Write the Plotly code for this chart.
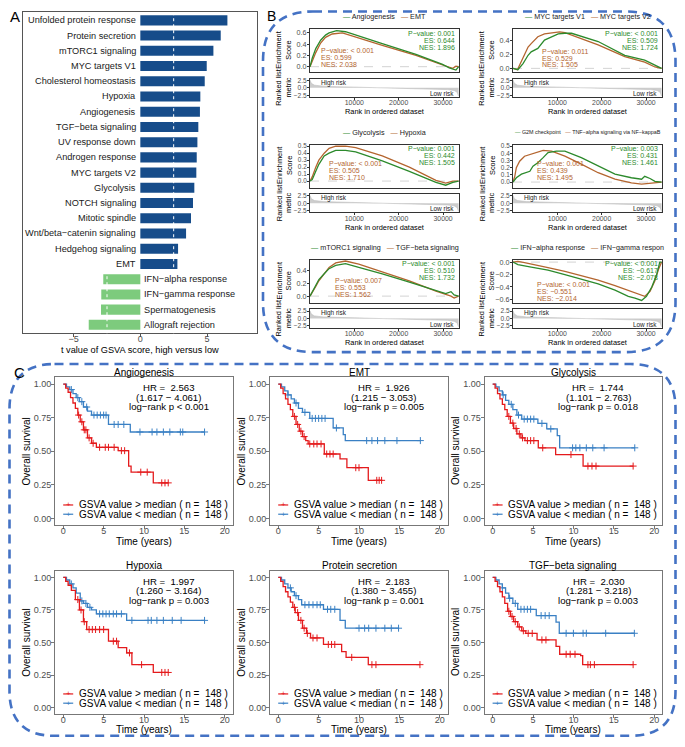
import plotly.graph_objects as go

# the page adds an 8px body margin, so the figure is 16px smaller and shifted
W, H = 685, 747
OFF = 8
FW, FH = W - 2 * OFF, H - 2 * OFF
FONT = "Liberation Sans, Arial, sans-serif"
GREEN, BROWN = "#2C8A2C", "#B4652F"
RED, BLUE = "#E41A1C", "#3A80C4"
BAR_UP, BAR_DOWN = "#164C8A", "#7DCB7D"
FRAME = "#333333"
KM_FRAME = "#777777"
TICK = "#4D4D4D"
DASH_BLUE = "#4472C4"
NB = "\u00a0"

# ---------------- A: t values of GSVA score
pathways = ["Unfolded protein response", "Protein secretion", "mTORC1 signaling", "MYC targets V1",
            "Cholesterol homeostasis", "Hypoxia", "Angiogenesis", "TGF−beta signaling", "UV response down",
            "Androgen response", "MYC targets V2", "Glycolysis", "NOTCH signaling", "Mitotic spindle",
            "Wnt/beta−catenin signaling", "Hedgehog signaling", "EMT", "IFN−alpha response",
            "IFN−gamma response", "Spermatogenesis", "Allograft rejection"]
t_values = [6.53, 6.03, 5.48, 4.98, 4.83, 4.50, 4.47, 4.35, 4.28, 4.23, 4.20, 4.05, 3.95, 3.80,
            3.43, 2.83, 2.78, -2.78, -2.93, -2.95, -3.87]

# ---------------- B: GSEA running enrichment scores
metric_rank = [0, 300, 1000, 3000, 6000, 10000, 14000, 17000, 20000, 25000, 29000, 31000, 32500, 33200, 33500]
metric_value = [2.6, 1.5, 0.9, 0.55, 0.4, 0.25, 0.12, 0.0, -0.08, -0.22, -0.4, -0.6, -0.9, -1.5, -2.8]

angio_rank = [0, 500, 1300, 2400, 3500, 4300, 6000, 8000, 16300, 23900, 29900, 31400, 32900, 33500]
angio_es = [0, 0.15, 0.32, 0.47, 0.56, 0.60, 0.64, 0.62, 0.41, 0.22, 0.04, -0.02, -0.06, 0.0]
emt_rank = [0, 500, 1300, 2400, 3500, 5000, 7300, 16300, 23900, 29900, 32200, 32900, 33500]
emt_es = [0, 0.10, 0.25, 0.42, 0.52, 0.58, 0.60, 0.38, 0.20, 0.03, -0.03, 0.01, 0.0]

mycv1_rank = [0, 1100, 2260, 3400, 4100, 5600, 7100, 8700, 10200, 11700, 13200, 19200, 25200, 29700, 32000, 33500]
mycv1_es = [0, -0.02, 0.07, 0.19, 0.24, 0.29, 0.41, 0.46, 0.50, 0.51, 0.51, 0.39, 0.19, 0.12, 0.05, 0.0]
mycv2_rank = [0, 1000, 1500, 2600, 3400, 4100, 5600, 7100, 8700, 10500, 11700, 15500, 19200, 25200, 29700, 32000, 33500]
mycv2_es = [0, -0.02, 0.05, 0.19, 0.31, 0.36, 0.46, 0.50, 0.51, 0.53, 0.52, 0.43, 0.34, 0.17, 0.09, 0.02, 0.0]

glyco_rank = [0, 500, 1300, 2000, 3200, 4300, 5800, 8000, 10300, 16300, 22400, 28400, 30600, 32200, 33500]
glyco_es = [0, 0.02, 0.14, 0.24, 0.36, 0.40, 0.44, 0.44, 0.42, 0.29, 0.14, -0.02, -0.06, -0.02, 0.0]
hypoxia_rank = [0, 500, 1300, 2000, 3200, 4300, 5800, 8000, 10300, 16300, 22400, 28400, 30600, 32200, 33500]
hypoxia_es = [0, 0.06, 0.20, 0.30, 0.40, 0.47, 0.50, 0.50, 0.48, 0.36, 0.20, 0.01, -0.03, 0.0, 0.0]

g2m_rank = [0, 750, 1900, 3000, 3800, 4500, 5600, 6800, 7900, 9800, 11700, 15400, 19200, 23000, 26700,
            29000, 29700, 30900, 32000, 33500]
g2m_es = [0, 0.06, 0.11, 0.13, 0.15, 0.22, 0.27, 0.34, 0.41, 0.43, 0.43, 0.34, 0.22, 0.11, 0.06,
          0.04, 0.08, 0.05, 0.01, 0.0]
tnfa_rank = [0, 400, 750, 1500, 2600, 4100, 5600, 6800, 8700, 11700, 15400, 19200, 23000, 26700, 29000, 31300, 33500]
tnfa_es = [0, 0.08, 0.20, 0.29, 0.36, 0.39, 0.42, 0.44, 0.43, 0.36, 0.25, 0.13, 0.04, -0.01, -0.03, -0.01, 0.0]

mtorc1_rank = [0, 500, 1300, 2000, 3200, 4300, 5800, 8000, 11000, 16300, 22400, 28400, 30600, 31800, 32500, 33500]
mtorc1_es = [0, 0.06, 0.17, 0.26, 0.35, 0.43, 0.48, 0.51, 0.45, 0.35, 0.22, 0.09, 0.04, 0.07, 0.02, 0.0]
tgfb_rank = [0, 500, 1300, 2000, 3200, 4300, 5800, 8000, 11000, 16300, 22400, 28400, 30600, 31800, 32500, 33500]
tgfb_es = [0, 0.05, 0.15, 0.24, 0.36, 0.45, 0.52, 0.55, 0.50, 0.38, 0.24, 0.08, 0.03, 0.0, -0.03, 0.0]

ifna_rank = [0, 1100, 4100, 7900, 11700, 15400, 19200, 23000, 26000, 27500, 29000, 30100, 31300, 32400, 33100, 33500]
ifna_es = [0, -0.04, -0.08, -0.13, -0.20, -0.27, -0.35, -0.45, -0.55, -0.58, -0.617, -0.55, -0.40, -0.20, 0.0, 0.0]
ifng_rank = [0, 1100, 2600, 4100, 7900, 11700, 15400, 19200, 23000, 26000, 27500, 29000, 29700, 30900, 32000, 32800, 33500]
ifng_es = [0, 0.01, -0.01, -0.03, -0.09, -0.15, -0.22, -0.29, -0.38, -0.46, -0.50, -0.53, -0.551, -0.47, -0.30, -0.12, 0.0]

# ---------------- C: Kaplan-Meier, GSVA high (hi) vs low (lo)
angio_hi_t = [0, 0.3, 0.6, 0.9, 1.2, 1.5, 1.8, 2.1, 2.5, 3.0, 3.5, 4.1, 6.8, 8.1, 8.4, 11.15, 13.0]
angio_hi_s = [1.0, 0.97, 0.94, 0.90, 0.86, 0.82, 0.77, 0.72, 0.66, 0.60, 0.56, 0.53, 0.505, 0.39, 0.345, 0.265, 0.265]
angio_hi_cens = [1.9, 2.3, 2.6, 2.8, 3.2, 3.7, 4.5, 5.2, 5.6, 6.3, 7.2, 7.6, 9.6, 10.4, 12.2, 12.6, 13.0]
angio_lo_t = [0, 0.4, 0.8, 1.2, 1.6, 2.0, 2.5, 3.0, 3.5, 5.6, 8.3, 17.5]
angio_lo_s = [1.0, 0.98, 0.96, 0.93, 0.90, 0.87, 0.83, 0.80, 0.77, 0.70, 0.644, 0.644]
angio_lo_cens = [1.0, 1.8, 2.3, 2.9, 3.8, 4.2, 4.6, 5.0, 5.3, 6.3, 6.8, 7.5, 9.5, 11.0, 11.6, 12.4, 13.2, 14.5, 14.8, 17.5]

emt_hi_t = [0, 0.3, 0.6, 0.9, 1.2, 1.5, 1.8, 2.2, 2.6, 3.0, 3.4, 3.7, 5.7, 7.65, 8.5, 11.15, 12.8]
emt_hi_s = [1.0, 0.97, 0.93, 0.89, 0.85, 0.81, 0.76, 0.70, 0.65, 0.61, 0.58, 0.555, 0.48, 0.444, 0.378, 0.284, 0.284]
emt_hi_cens = [2.0, 2.4, 2.8, 3.2, 3.9, 4.4, 4.8, 5.3, 6.0, 6.4, 6.8, 9.6, 10.0, 12.2, 12.5, 12.8]
emt_lo_t = [0, 0.4, 0.8, 1.2, 1.6, 2.0, 2.5, 3.0, 3.9, 6.8, 8.05, 8.3, 17.6]
emt_lo_s = [1.0, 0.98, 0.95, 0.92, 0.89, 0.86, 0.82, 0.79, 0.745, 0.674, 0.624, 0.58, 0.58]
emt_lo_cens = [1.2, 2.2, 3.3, 4.2, 4.6, 5.0, 5.4, 5.8, 7.2, 10.95, 11.6, 12.3, 13.2, 14.7, 17.6]

glyco_hi_t = [0, 0.3, 0.6, 0.9, 1.2, 1.5, 1.8, 2.2, 2.6, 3.0, 3.5, 4.0, 5.65, 7.8, 11.2, 17.4]
glyco_hi_s = [1.0, 0.97, 0.93, 0.89, 0.85, 0.81, 0.76, 0.71, 0.67, 0.63, 0.60, 0.58, 0.526, 0.476, 0.39, 0.39]
glyco_hi_cens = [2.0, 2.5, 2.9, 3.3, 3.7, 4.3, 4.7, 5.1, 6.2, 9.7, 11.8, 12.3, 12.8, 17.4]
glyco_lo_t = [0, 0.4, 0.8, 1.2, 1.6, 2.0, 2.5, 3.0, 3.6, 5.6, 6.7, 8.0, 8.3, 17.6]
glyco_lo_s = [1.0, 0.98, 0.95, 0.92, 0.88, 0.85, 0.81, 0.77, 0.74, 0.708, 0.667, 0.617, 0.526, 0.526]
glyco_lo_cens = [1.3, 2.3, 3.2, 3.9, 4.3, 4.7, 5.1, 6.1, 7.2, 9.9, 10.3, 10.8, 11.6, 12.4, 13.8, 17.6]

hypoxia_hi_t = [0, 0.3, 0.6, 1.0, 1.5, 2.0, 2.5, 2.9, 5.6, 6.8, 7.85, 8.5, 11.15, 13.0]
hypoxia_hi_s = [1.0, 0.97, 0.94, 0.90, 0.83, 0.75, 0.66, 0.60, 0.51, 0.46, 0.42, 0.33, 0.27, 0.27]
hypoxia_hi_cens = [1.8, 2.2, 2.6, 3.2, 3.6, 4.0, 4.5, 5.0, 6.2, 6.6, 8.2, 9.7, 12.2, 12.6, 13.0]
hypoxia_lo_t = [0, 0.4, 0.8, 1.2, 1.6, 2.1, 2.5, 3.0, 3.5, 4.1, 7.85, 17.5]
hypoxia_lo_s = [1.0, 0.98, 0.95, 0.92, 0.88, 0.82, 0.80, 0.77, 0.75, 0.72, 0.67, 0.67]
hypoxia_lo_cens = [1.0, 2.3, 2.8, 3.3, 4.5, 4.9, 5.3, 5.7, 6.2, 6.6, 7.2, 8.5, 10.5, 10.9, 11.6, 12.4, 13.5, 14.6, 17.5]

protsec_hi_t = [0, 0.3, 0.6, 0.9, 1.2, 1.5, 1.8, 2.1, 2.5, 3.0, 3.5, 4.0, 5.6, 7.85, 8.4, 11.15, 17.55]
protsec_hi_s = [1.0, 0.97, 0.93, 0.89, 0.85, 0.81, 0.77, 0.73, 0.67, 0.61, 0.57, 0.535, 0.485, 0.43, 0.386, 0.33, 0.33]
protsec_hi_cens = [2.0, 2.4, 2.8, 3.2, 3.6, 4.3, 4.8, 6.2, 6.6, 7.0, 9.1, 11.6, 12.1, 17.55]
protsec_lo_t = [0, 0.4, 0.8, 1.2, 1.6, 2.0, 2.5, 2.9, 5.6, 7.65, 8.3, 14.9]
protsec_lo_s = [1.0, 0.98, 0.95, 0.92, 0.89, 0.86, 0.83, 0.79, 0.755, 0.67, 0.61, 0.61]
protsec_lo_cens = [1.5, 2.2, 3.3, 3.8, 4.3, 4.8, 5.2, 6.1, 6.5, 7.0, 10.0, 10.7, 11.2, 12.1, 13.2, 14.0, 14.9]

tgfb_hi_t = [0, 0.3, 0.6, 0.9, 1.2, 1.5, 1.85, 2.2, 2.6, 3.1, 3.6, 4.1, 5.5, 7.85, 8.3, 10.9, 11.15, 17.4]
tgfb_hi_s = [1.0, 0.97, 0.93, 0.89, 0.85, 0.80, 0.74, 0.70, 0.66, 0.62, 0.59, 0.57, 0.52, 0.47, 0.41, 0.40, 0.33, 0.33]
tgfb_hi_cens = [2.0, 2.4, 2.8, 3.3, 3.8, 4.4, 4.9, 6.1, 6.6, 9.1, 9.6, 10.2, 11.8, 12.1, 12.6, 17.4]
tgfb_lo_t = [0, 0.4, 0.8, 1.2, 1.6, 2.0, 2.5, 3.1, 5.4, 7.85, 8.25, 17.55]
tgfb_lo_s = [1.0, 0.98, 0.95, 0.92, 0.88, 0.84, 0.80, 0.755, 0.707, 0.657, 0.571, 0.571]
tgfb_lo_cens = [1.2, 2.1, 2.8, 3.5, 3.9, 4.3, 4.7, 6.0, 6.5, 7.0, 9.1, 10.0, 11.2, 11.6, 14.0, 17.55]


# positions below are in page pixels (reference picture), converted to paper fractions
def px(x):
    return (x - OFF) / FW


def py(y):
    return 1 - (y - OFF) / FH


def xdom(a, b):
    return [px(a), px(b)]


def ydom(top, bottom):
    return [py(bottom), py(top)]


fig = go.Figure()
layout = {}
annotations = []
shapes = []


def label(text, x, y, size, color="black", xanchor="center", angle=0):
    annotations.append(dict(text=text, x=px(x), y=py(y), xref="paper", yref="paper", showarrow=False,
                            xanchor=xanchor, yanchor="middle", textangle=angle,
                            font=dict(family=FONT, size=size, color=color)))


def axis(dom, frame=FRAME, size=7.2, **kw):
    d = dict(domain=dom, showline=True, mirror=True, linecolor=frame, linewidth=1, showgrid=False,
             zeroline=False, ticks="outside", ticklen=2, tickcolor=frame,
             tickfont=dict(family=FONT, size=size, color=TICK))
    d.update(kw)
    return d


def add_axes(n, xd, yd, xkw, ykw, **common):
    s = "" if n == 1 else str(n)
    layout["xaxis" + s] = axis(xd, anchor="y" + s, **common, **xkw)
    layout["yaxis" + s] = axis(yd, anchor="x" + s, **common, **ykw)
    return "x" + s, "y" + s


def rounded_box(x0, y0, x1, y1, r):
    X, Y = px, py
    p = (f"M {X(x0 + r)},{Y(y0)} L {X(x1 - r)},{Y(y0)} Q {X(x1)},{Y(y0)} {X(x1)},{Y(y0 + r)} "
         f"L {X(x1)},{Y(y1 - r)} Q {X(x1)},{Y(y1)} {X(x1 - r)},{Y(y1)} "
         f"L {X(x0 + r)},{Y(y1)} Q {X(x0)},{Y(y1)} {X(x0)},{Y(y1 - r)} "
         f"L {X(x0)},{Y(y0 + r)} Q {X(x0)},{Y(y0)} {X(x0 + r)},{Y(y0)} Z")
    shapes.append(dict(type="path", path=p, xref="paper", yref="paper",
                       line=dict(color=DASH_BLUE, width=2.6, dash="9px,6px")))


# ================= Panel A
xa, ya = add_axes(1, xdom(23, 257), ydom(10, 333),
                  dict(range=[-8.8, 8.75], tickvals=[-5, 0, 5], ticklen=3, ticklabelstandoff=-6),
                  dict(type="category", categoryorder="array", categoryarray=pathways,
                       range=[len(pathways) - 0.45, -0.55], showticklabels=False, ticks=""),
                  frame="#555555", size=9)
fig.add_trace(go.Bar(x=t_values, y=pathways, orientation="h", width=0.66, xaxis=xa, yaxis=ya,
                     marker=dict(color=[BAR_UP if v > 0 else BAR_DOWN for v in t_values], line=dict(width=0)),
                     showlegend=False))
for name, v in zip(pathways, t_values):
    annotations.append(dict(text=name, x=0, y=name, xref=xa, yref=ya, showarrow=False,
                            xanchor="right" if v > 0 else "left", xshift=-2 if v > 0 else 2,
                            font=dict(family=FONT, size=9.2, color="#1A1A1A")))
for cut in (-2.5, 2.5):
    shapes.append(dict(type="line", xref=xa, yref=ya + " domain", x0=cut, x1=cut, y0=0, y1=1,
                       line=dict(color="white", width=1, dash="dot")))
label("t value of GSVA score, high versus low", 140, 350, 9.2)
label("A", 8, 15, 15, xanchor="left")

# ================= Panel B
gsea = [
    ("Angiogenesis", "EMT", angio_rank, angio_es, emt_rank, emt_es,
     ["P−value: 0.001", "ES: 0.644", "NES: 1.896"], ["P−value: < 0.001", "ES: 0.599", "NES: 2.038"],
     [-0.097, 0.665], 0.2, 7.2, (9, 21)),
    ("MYC targets V1", "MYC targets V2", mycv1_rank, mycv1_es, mycv2_rank, mycv2_es,
     ["P−value: < 0.001", "ES: 0.509", "NES: 1.724"], ["P−value: 0.011", "ES: 0.529", "NES: 1.505"],
     [-0.055, 0.569], 0.2, 7.2, (27, 22)),
    ("Glycolysis", "Hypoxia", glyco_rank, glyco_es, hypoxia_rank, hypoxia_es,
     ["P−value: 0.001", "ES: 0.442", "NES: 1.505"], ["P−value: < 0.001", "ES: 0.505", "NES: 1.710"],
     [-0.093, 0.524], 0.1, 7.2, (17, 19)),
    ("G2M checkpoint", "TNF−alpha signaling via NF−kappaB", g2m_rank, g2m_es, tnfa_rank, tnfa_es,
     ["P−value: 0.003", "ES: 0.431", "NES: 1.461"], ["P−value: 0.001", "ES: 0.439", "NES: 1.495"],
     [-0.076, 0.522], 0.1, 5.4, (22, 19)),
    ("mTORC1 signaling", "TGF−beta signaling", mtorc1_rank, mtorc1_es, tgfb_rank, tgfb_es,
     ["P−value: < 0.001", "ES: 0.510", "NES: 1.732"], ["P−value: 0.007", "ES: 0.553", "NES: 1.562"],
     [-0.106, 0.567], 0.2, 7.2, (23, 21)),
    ("IFN−alpha response", "IFN−gamma respon", ifna_rank, ifna_es, ifng_rank, ifng_es,
     ["P−value: < 0.001", "ES: −0.617", "NES: −2.078"], ["P−value: < 0.001", "ES: −0.551", "NES: −2.014"],
     [-0.656, 0.035], 0.2, 7.2, (22, 25)),
]
b_cols = [(310, 459), (513, 662)]
rank_range = [0, 33600]
for k, (gname, bname, gr, ge, br, be, gstat, bstat, yr, dt, lsize, boff) in enumerate(gsea):
    r, c = divmod(k, 2)
    left, right = b_cols[c]
    es_top, es_bot = 27.3 + 116 * r, 70.5 + 116 * r
    m_top, m_bot = 77 + 116 * r, 95.5 + 116 * r
    es_tick = 6.4 if dt < 0.2 else 7.2
    xe, ye = add_axes(2 + 2 * k, xdom(left, right), ydom(es_top, es_bot),
                      dict(range=rank_range, showticklabels=False, ticks=""),
                      dict(range=yr, dtick=dt, tick0=0, tickformat=".1f", ticklabelstandoff=-1,
                           tickfont=dict(family=FONT, size=es_tick, color=TICK)))
    xm, ym = add_axes(3 + 2 * k, xdom(left, right), ydom(m_top, m_bot),
                      dict(range=rank_range, tickvals=[10000, 20000, 30000], tickformat="d",
                           ticklabelstandoff=-3, tickfont=dict(family=FONT, size=6.9, color=TICK)),
                      dict(range=[-3.1, 3.1], tickvals=[-2.5, 0, 2.5], ticktext=["−2.5", "0.0", "2.5"],
                           ticklabelstandoff=-1, tickfont=dict(family=FONT, size=6.6, color=TICK)))
    shapes.append(dict(type="line", xref=xe + " domain", yref=ye, x0=0, x1=1, y0=0, y1=0,
                       line=dict(color="#C8C8C8", width=0.8, dash="dash"), layer="below"))
    fig.add_trace(go.Scatter(x=metric_rank, y=metric_value, xaxis=xm, yaxis=ym, mode="lines",
                             fill="tozeroy", fillcolor="#CDCDCD", line=dict(color="#BDBDBD", width=0.6),
                             showlegend=False))
    fig.add_trace(go.Scatter(x=br, y=be, xaxis=xe, yaxis=ye, mode="lines",
                             line=dict(color=BROWN, width=1.3), showlegend=False))
    fig.add_trace(go.Scatter(x=gr, y=ge, xaxis=xe, yaxis=ye, mode="lines",
                             line=dict(color=GREEN, width=1.3), showlegend=False))
    for i, line in enumerate(gstat):
        label(line, right - 2, es_top + 4 + 7 * i, 7, GREEN, xanchor="right")
    for i, line in enumerate(bstat):
        label(line, left + boff[0], es_top + boff[1] + 7 * i, 7, BROWN, xanchor="left")
    legend_text = (f"<span style='color:{GREEN}'>—</span> {gname}{NB}{NB}{NB}"
                   f"<span style='color:{BROWN}'>—</span> {bname}")
    label(legend_text, (left + right) / 2, 15 + 116 * r, lsize, "#1A1A1A")
    label("High risk", left + 9, m_top + 4, 6.4, "#1A1A1A", xanchor="left")
    label("Low risk", right - 3, m_bot - 3.5, 6.4, "#1A1A1A", xanchor="right")
    label("Enrichment<br>Score", left - 26, (es_top + es_bot) / 2, 7.4, angle=-90)
    label("Ranked list<br>metric", left - 26, (m_top + m_bot) / 2, 7.4, angle=-90)
    label("Rank in ordered dataset", (left + right) / 2, 110.5 + 116 * r, 7.4)
label("B", 265, 14, 14, xanchor="left")
rounded_box(263, 9.5, 675.5, 352, 50)

# ================= Panel C


def surv_at(ts, ss, t):
    s = ss[0]
    for ti, si in zip(ts, ss):
        if ti <= t:
            s = si
    return s


km = [
    ("Angiogenesis", angio_hi_t, angio_hi_s, angio_hi_cens, angio_lo_t, angio_lo_s, angio_lo_cens,
     "2.563", "(1.617 − 4.061)", "log−rank p &lt; 0.001"),
    ("EMT", emt_hi_t, emt_hi_s, emt_hi_cens, emt_lo_t, emt_lo_s, emt_lo_cens,
     "1.926", "(1.215 − 3.053)", "log−rank p = 0.005"),
    ("Glycolysis", glyco_hi_t, glyco_hi_s, glyco_hi_cens, glyco_lo_t, glyco_lo_s, glyco_lo_cens,
     "1.744", "(1.101 − 2.763)", "log−rank p = 0.018"),
    ("Hypoxia", hypoxia_hi_t, hypoxia_hi_s, hypoxia_hi_cens, hypoxia_lo_t, hypoxia_lo_s, hypoxia_lo_cens,
     "1.997", "(1.260 − 3.164)", "log−rank p = 0.003"),
    ("Protein secretion", protsec_hi_t, protsec_hi_s, protsec_hi_cens, protsec_lo_t, protsec_lo_s, protsec_lo_cens,
     "2.183", "(1.380 − 3.455)", "log−rank p = 0.001"),
    ("TGF−beta signaling", tgfb_hi_t, tgfb_hi_s, tgfb_hi_cens, tgfb_lo_t, tgfb_lo_s, tgfb_lo_cens,
     "2.030", "(1.281 − 3.218)", "log−rank p = 0.003"),
]
c_cols = [(55.2, 232.8), (270.2, 447.8), (484.6, 662.2)]
c_rows = [(377.5, 526, 16.7), (572, 716, 15.3)]
for k, (title, hi_t, hi_s, hi_c, lo_t, lo_s, lo_c, hr, ci, pval) in enumerate(km):
    r, c = divmod(k, 3)
    left, right = c_cols[c]
    top, bot, title_gap = c_rows[r]
    xk, yk = add_axes(14 + k, xdom(left, right), ydom(top, bot),
                      dict(range=[-1, 21], tickvals=[0, 5, 10, 15, 20], ticklabelstandoff=-6),
                      dict(range=[-0.05, 1.05], tickvals=[0, 0.25, 0.5, 0.75, 1.0], tickformat=".2f",
                           ticklabelstandoff=-2),
                      frame=KM_FRAME, size=9, ticklen=3)
    for ts, ss, cens, col in ((lo_t, lo_s, lo_c, BLUE), (hi_t, hi_s, hi_c, RED)):
        fig.add_trace(go.Scatter(x=ts, y=ss, xaxis=xk, yaxis=yk, mode="lines", line_shape="hv",
                                 line=dict(color=col, width=1.3), showlegend=False))
        fig.add_trace(go.Scatter(x=cens, y=[surv_at(ts, ss, t) for t in cens], xaxis=xk, yaxis=yk,
                                 mode="markers", showlegend=False,
                                 marker=dict(symbol="cross-thin", size=5, line=dict(color=col, width=1))))
    cx = (left + right) / 2
    label(title, cx, top - 5, 10)
    hx = left + 8.07 * 14.1
    label(f"HR ={NB} {hr}", hx, top + 10.5, 9.6)
    label(ci, hx, top + 20, 9.6)
    label(pval, hx, top + 29.5, 9.6)
    for i, (col, sign) in enumerate(((RED, "&gt;"), (BLUE, "&lt;"))):
        yy = bot - 20.3 + 9.3 * i
        shapes.append(dict(type="line", xref="paper", yref="paper", x0=px(left + 8), x1=px(left + 18),
                           y0=py(yy), y1=py(yy), line=dict(color=col, width=1.2)))
        label("+", left + 13, yy, 8, col)
        label(f"GSVA value {sign} median ( n ={NB} 148 )", left + 21.5, yy, 10, xanchor="left")
    label("Time (years)", cx, bot + title_gap, 10)
    label("Overall survival", left - 29, (top + bot) / 2, 10, angle=-90)
label("C", 12, 372, 15, xanchor="left")
rounded_box(9.5, 364, 675.5, 737.8, 45)

fig.update_layout(width=FW, height=FH, margin=dict(l=0, r=0, t=0, b=0),
                  plot_bgcolor="white", paper_bgcolor="white",
                  font=dict(family=FONT, color="#1A1A1A"),
                  annotations=annotations, shapes=shapes, **layout)
fig.write_html("out.html")
